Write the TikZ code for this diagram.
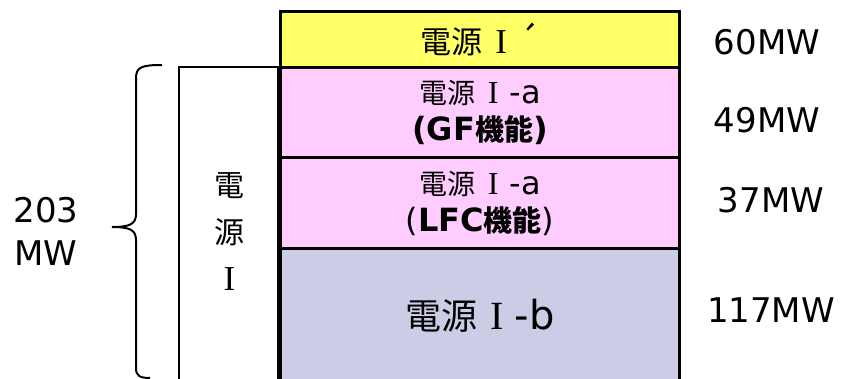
\documentclass[tikz,border=0pt]{standalone}
\usepackage{fontspec}
\setmainfont{DejaVu Sans}
\newfontfamily\jp{Noto Sans CJK JP}
\newfontfamily\rmI{Liberation Serif}
\definecolor{yel}{RGB}{255,255,102}
\definecolor{pnk}{RGB}{255,204,255}
\definecolor{lav}{RGB}{204,204,230}
% #1 CJK size, #2 latin size, #3 suffix
\newcommand\gen[3]{{\fontsize{#1}{#1}\selectfont\jp 電源}\hspace{0.4em}{\fontsize{#2}{#2}\selectfont\rmI I}\hspace{0.35em}{\fontsize{#2}{#2}\selectfont #3}}
\begin{document}
\begin{tikzpicture}[x=1pt,y=-1pt,
  band/.style={draw, line width=3pt, minimum width=399pt, inner sep=0pt, anchor=north west, align=center},
  small/.style={font=\fontsize{32}{37}\selectfont},
  mw/.style={font=\fontsize{34}{43}\selectfont, align=center}]
\useasboundingbox (0,0) rectangle (841,378);
\clip (0,0) rectangle (841,378);
\node[band, fill=yel, minimum height=56pt, small] (yb) at (279,10) {\gen{31}{35}{\jp ´}};
\node[band, fill=pnk, minimum height=90pt, small] (p1) at (279,66) {\gen{28}{32}{-a}\\\textbf{(GF{\fontsize{29}{29}\selectfont\jp 機能})}};
\node[band, fill=pnk, minimum height=91pt, small] (p2) at (279,156) {\gen{28}{32}{-a}\\(\textbf{LFC{\fontsize{29}{29}\selectfont\jp 機能}})};
\node[band, fill=lav, minimum height=135pt, small] (bb) at (279,247) {\gen{36}{40}{-b}};
\node[draw, line width=2pt, anchor=north west, minimum width=101pt, minimum height=330pt, inner sep=0pt, align=center, font=\fontsize{30}{47}\selectfont] (src) at (178,66) {{\jp 電}\\{\jp 源}\\{\rmI\fontsize{35}{35}\selectfont I}};
\draw[line width=4pt] (p1.north west) -- (bb.south west);
\node[mw] (m60) at (767,42) {60MW};
\node[mw] (m49) at (767,120) {49MW};
\node[mw] (m37) at (771,200) {37MW};
\node[mw] (m117) at (771,310) {117MW};
\node[mw] (tot) at (46,231) {203\\MW};
\draw[line width=2pt] (162,65) .. controls (142,65) and (136,67) .. (136,78) -- (136,214)
  .. controls (136,224) and (130,227) .. (112,227)
  .. controls (130,227) and (136,230) .. (136,240) -- (136,368)
  .. controls (136,376) and (140,378) .. (150,378);
\end{tikzpicture}
\end{document}
